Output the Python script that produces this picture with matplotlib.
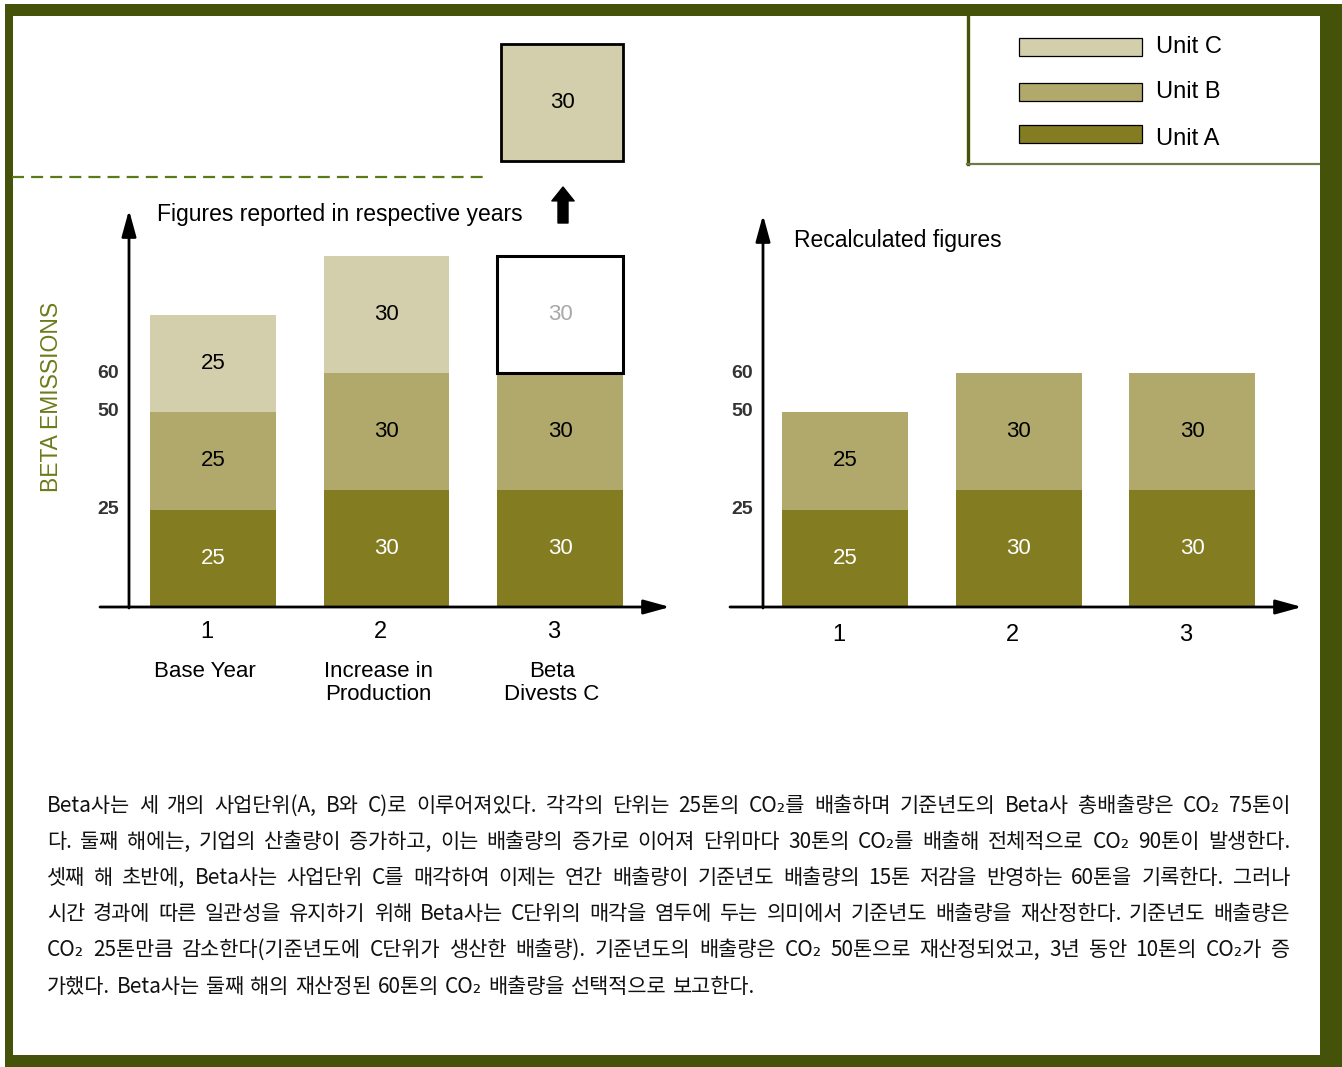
import matplotlib
matplotlib.use('Agg')
import matplotlib.pyplot as plt
from matplotlib.patches import Rectangle
from matplotlib.lines import Line2D

# ---------------- data ----------------
periods = ['1', '2', '3']
period_names = ['Base Year', 'Increase in\nProduction', 'Beta\nDivests C']
unit_names = ['Unit C', 'Unit B', 'Unit A']
reported_a = [25, 30, 30]
reported_b = [25, 30, 30]
reported_c = [25, 30, 30]
divested = [False, False, True]
recalc_a = [25, 30, 30]
recalc_b = [25, 30, 30]
divested_c_value = 30
ytick_values = [25, 50, 60]
title_left = 'Figures reported in respective years'
title_right = 'Recalculated figures'
ylabel_text = 'BETA EMISSIONS'
paragraph_lines = [
    'Beta사는 세 개의 사업단위(A, B와 C)로 이루어져있다. 각각의 단위는 25톤의 CO₂를 배출하며 기준년도의 Beta사 총배출량은 CO₂ 75톤이',
    '다. 둘째 해에는, 기업의 산출량이 증가하고, 이는 배출량의 증가로 이어져 단위마다 30톤의 CO₂를 배출해 전체적으로 CO₂ 90톤이 발생한다.',
    '셋째 해 초반에, Beta사는 사업단위 C를 매각하여 이제는 연간 배출량이 기준년도 배출량의 15톤 저감을 반영하는 60톤을 기록한다. 그러나',
    '시간 경과에 따른 일관성을 유지하기 위해 Beta사는 C단위의 매각을 염두에 두는 의미에서 기준년도 배출량을 재산정한다. 기준년도 배출량은',
    'CO₂ 25톤만큼 감소한다(기준년도에 C단위가 생산한 배출량). 기준년도의 배출량은 CO₂ 50톤으로 재산정되었고, 3년 동안 10톤의 CO₂가 증',
    '가했다. Beta사는 둘째 해의 재산정된 60톤의 CO₂ 배출량을 선택적으로 보고한다.',
]

# ---------------- style ----------------
W, H, DPI = 1342, 1067, 100
COL_C, COL_B, COL_A = '#D3CFAC', '#B1A96C', '#847C21'
FRAME = '#45520A'
LFONT = ['Liberation Sans Narrow', 'Liberation Sans', 'DejaVu Sans']
KFONT = ['Noto Sans CJK KR', 'DejaVu Sans']
plt.rcParams['font.family'] = LFONT

fig = plt.figure(figsize=(W / DPI, H / DPI), dpi=DPI)
fig.patch.set_facecolor('white')

# overlay axes in pixel coordinates
ov = fig.add_axes([0, 0, 1, 1], zorder=0)
ov.set_xlim(0, W)
ov.set_ylim(H, 0)
ov.axis('off')
ov.patch.set_alpha(0)

PXU = 3.9      # pixels per emission unit
STEP = 173.5   # pixels between bar centres
BASE = 607     # pixel row of zero
BAR_W = 126 / STEP


def make_axes(px0, px1, py_top, c1):
    ax = fig.add_axes([px0 / W, (H - BASE) / H, (px1 - px0) / W, (BASE - py_top) / H], zorder=2)
    ax.set_xlim(1 + (px0 - c1) / STEP, 1 + (px1 - c1) / STEP)
    ax.set_ylim(0, (BASE - py_top) / PXU)
    ax.axis('off')
    ax.patch.set_alpha(0)
    return ax


def Y(py):
    return (BASE - py) / PXU


ARROW = dict(arrowstyle='-|>,head_length=0.8,head_width=0.22', lw=2.0, color='black',
             mutation_scale=20, shrinkA=0, shrinkB=0)
xs = [1, 2, 3]


def seg_label(ax, x, bottom, val, color):
    ax.text(x, bottom + val / 2, str(val), ha='center', va='center', fontsize=16, color=color)


def axes_decor(ax, c1, yaxis_px, xstart_px, xend_px, ytop_px, xlab_py):
    X = lambda px: 1 + (px - c1) / STEP
    ax.annotate('', xy=(X(yaxis_px), Y(ytop_px)), xytext=(X(yaxis_px), Y(BASE + 1)),
                arrowprops=ARROW, annotation_clip=False)
    ax.annotate('', xy=(X(xend_px), 0), xytext=(X(xstart_px), 0),
                arrowprops=ARROW, annotation_clip=False)
    for v in ytick_values:
        ax.text(X(yaxis_px - 10), v, str(v), ha='right', va='center', fontsize=14,
                fontweight='bold', color='#333333')
    for i, p in enumerate(periods):
        ax.text(xs[i] - 6 / STEP, Y(xlab_py), p, ha='center', va='center', fontsize=17)


# ---------------- left chart ----------------
C1L = 213
axl = make_axes(10, 690, 30, C1L)
XL = lambda px: 1 + (px - C1L) / STEP
axl.bar(xs, reported_a, BAR_W, color=COL_A, lw=0)
axl.bar(xs, reported_b, BAR_W, bottom=reported_a, color=COL_B, lw=0)
for i in range(3):
    bot = reported_a[i] + reported_b[i]
    seg_label(axl, xs[i], 0, reported_a[i], 'white')
    seg_label(axl, xs[i], reported_a[i], reported_b[i], 'black')
    if divested[i]:
        axl.bar(xs[i], reported_c[i], BAR_W, bottom=bot, facecolor='white',
                edgecolor='black', lw=2.2)
        seg_label(axl, xs[i], bot, reported_c[i], '#a8a8a8')
    else:
        axl.bar(xs[i], reported_c[i], BAR_W, bottom=bot, color=COL_C, lw=0)
        seg_label(axl, xs[i], bot, reported_c[i], 'black')

# moved-out unit C box
top_bottom = Y(161)
axl.bar(3 + 2 / STEP, divested_c_value, 122 / STEP, bottom=top_bottom, facecolor=COL_C,
        edgecolor='black', lw=2.0, clip_on=False)
seg_label(axl, 3 + 2 / STEP, top_bottom, divested_c_value, 'black')
axl.annotate('', xy=(XL(563), Y(187)), xytext=(XL(563), Y(223)),
             arrowprops=dict(arrowstyle='simple,head_length=0.5,head_width=0.8,tail_width=0.36',
                             mutation_scale=20, color='black', shrinkA=0, shrinkB=0),
             annotation_clip=False)
axl.plot([XL(12), XL(488)], [Y(177), Y(177)], ls=(0, (5.4, 3.2)), color='#5A7A16',
         lw=1.6, clip_on=False)

axes_decor(axl, C1L, 129, 100, 670, 210, 632)
axl.text(XL(157), Y(215), title_left, ha='left', va='center', fontsize=16.5)
for i, nm in enumerate(period_names):
    axl.text(xs[i] - 8 / STEP, Y(661), nm, ha='center', va='top', fontsize=16, linespacing=1.15)

# ---------------- right chart ----------------
C1R = 845
axr = make_axes(720, 1315, 200, C1R)
XR = lambda px: 1 + (px - C1R) / STEP
axr.bar(xs, recalc_a, BAR_W, color=COL_A, lw=0)
axr.bar(xs, recalc_b, BAR_W, bottom=recalc_a, color=COL_B, lw=0)
for i in range(3):
    seg_label(axr, xs[i], 0, recalc_a[i], 'white')
    seg_label(axr, xs[i], recalc_a[i], recalc_b[i], 'black')
axes_decor(axr, C1R, 763, 730, 1302, 215, 635)
axr.text(XR(794), Y(241), title_right, ha='left', va='center', fontsize=16.5)

# ---------------- frame ----------------
for (x, y, w, h) in [(5, 4, W - 5, 12), (5, 4, 8, H - 4), (5, 1055, W - 5, 12), (1320, 4, 22, H - 4)]:
    ov.add_patch(Rectangle((x, y), w, h, facecolor=FRAME, edgecolor='none', zorder=5))

# ---------------- legend ----------------
ov.add_line(Line2D([968, 968], [16, 164], color=FRAME, lw=2.4, zorder=4))
ov.add_line(Line2D([967, 1320], [163.5, 163.5], color='#6E7A45', lw=1.6, zorder=4))
leg_cols = [COL_C, COL_B, COL_A]
leg_y = [47, 92, 134]
for nm, col, yc in zip(unit_names, leg_cols, leg_y):
    ov.add_patch(Rectangle((1019, yc - 9), 123, 18, facecolor=col, edgecolor='black', lw=0.9, zorder=4))
    ov.text(1156, yc + (5 if nm == 'Unit A' else 0), nm, ha='left', va='center', fontsize=17, zorder=4)

# ---------------- y label ----------------
ov.text(52, 397, ylabel_text, rotation=90, ha='center', va='center', fontsize=16.5, color='#6A7D1A')

# ---------------- paragraph ----------------
renderer = fig.canvas.get_renderer()
X0, X1 = 47, 1290
line_y = [806, 842, 878, 914, 950, 987]


def word_widths(words, size):
    out = []
    for w in words:
        t = ov.text(0, 0, w, fontsize=size, family=KFONT)
        out.append(t.get_window_extent(renderer).width)
        t.remove()
    return out


base_size = 14.0
scale = 10.0
for ln in paragraph_lines[:-1]:
    words = ln.split(' ')
    ws = word_widths(words, base_size)
    need = (X1 - X0 - (len(words) - 1) * 4.5) / sum(ws)
    scale = min(scale, need)
ksize = min(base_size * scale, 15.0)

for li, (ln, yc) in enumerate(zip(paragraph_lines, line_y)):
    words = ln.split(' ')
    ws = word_widths(words, ksize)
    if li < len(paragraph_lines) - 1:
        gap = (X1 - X0 - sum(ws)) / (len(words) - 1)
    else:
        gap = ksize * 1.389 * 0.3
    x = X0
    for w, wd in zip(words, ws):
        ov.text(x, yc, w, fontsize=ksize, family=KFONT, ha='left', va='center', color='#111111')
        x += wd + gap

fig.savefig('out.png', dpi=DPI, facecolor='white')
